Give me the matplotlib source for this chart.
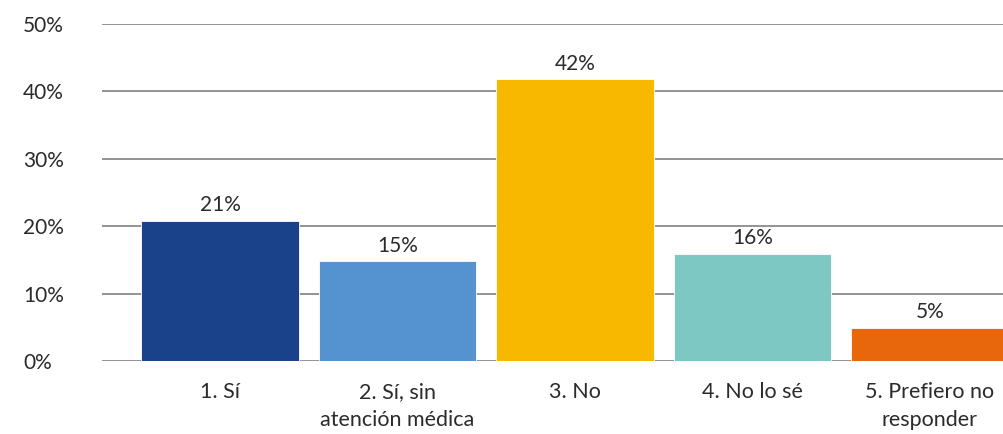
import matplotlib

matplotlib.use("Agg")
import matplotlib.pyplot as plt

# ── data ──────────────────────────────────────────────────────────────────
categories = ["1. Sí", "2. Sí, sin\natención médica", "3. No", "4. No lo sé",
              "5. Prefiero no\nresponder"]
values = [20.8, 14.8, 41.8, 15.9, 4.9]
labels = ["21%", "15%", "42%", "16%", "5%"]
yticks = [0, 10, 20, 30, 40, 50]
colors = ["#1a428a", "#5592d0", "#f8b800", "#7ec8c4", "#e8670c"]

plt.rcParams["font.family"] = ["Lato", "DejaVu Sans"]
TEXT = "#2b2b2b"

W, H = 1004, 434
fig = plt.figure(figsize=(W / 100, H / 100), dpi=100)
ax = fig.add_axes([102 / W, 73 / H, (W - 102) / W, (361 - 24) / H])

x = list(range(len(categories)))
ax.bar(x, values, width=0.89, color=colors, zorder=3, edgecolor="white", linewidth=0.6)

for xi, v, lab in zip(x, values, labels):
    ax.annotate(lab, (xi, v), xytext=(0, 4), textcoords="offset points",
                ha="center", va="bottom", fontsize=15, color=TEXT)

ax.set_xlim((102 - 220) / 177.5, (1004 - 220) / 177.5)
ax.set_ylim(0, 50)
ax.set_yticks(yticks)
ax.set_yticklabels([f"{t}%" for t in yticks], fontsize=15, color=TEXT)
for t in ax.get_yticklabels():
    t.set_horizontalalignment("left")
ax.tick_params(axis="y", length=0, pad=(102 - 23) * 0.72)
ax.set_xticks(x)
ax.set_xticklabels(categories, fontsize=15.5, color=TEXT, linespacing=1.5, va="top")
ax.tick_params(axis="x", length=0, pad=15)

ax.grid(axis="y", color="#8a8a8a", linewidth=1.3, zorder=0)
for s in ["top", "right", "left", "bottom"]:
    ax.spines[s].set_visible(False)

fig.savefig("out.png", dpi=100, facecolor="white")
